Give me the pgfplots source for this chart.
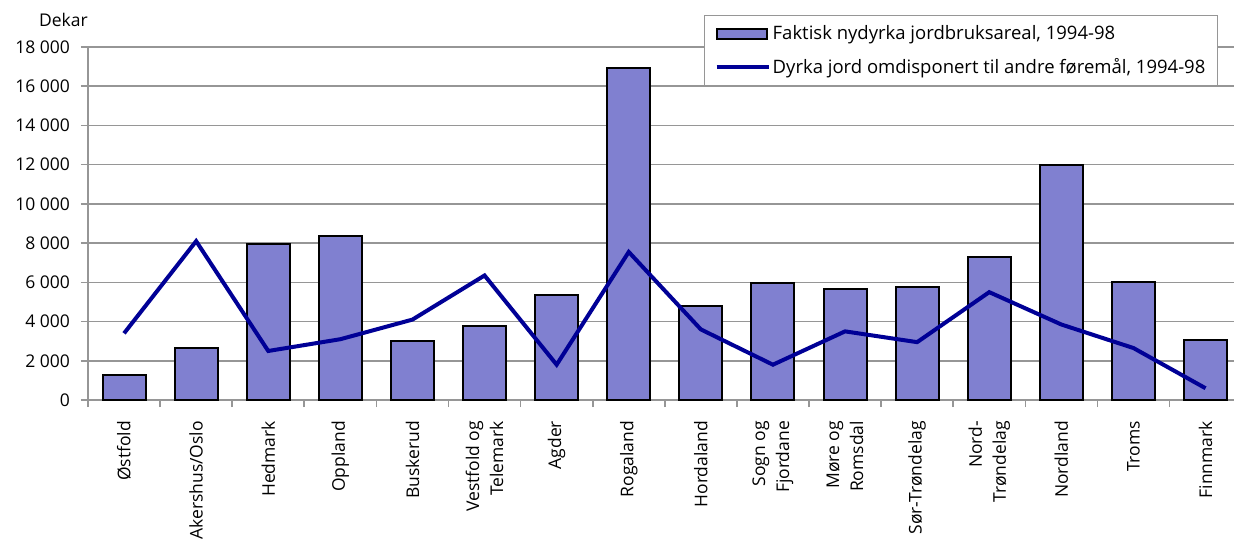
\documentclass[border=0pt]{standalone}
\usepackage{pgfplots}
\pgfplotsset{compat=1.18}
\usepackage{fontspec}
\setmainfont{Open Sans}
\definecolor{barfill}{RGB}{128,128,208}
\definecolor{linenavy}{RGB}{0,0,150}
\definecolor{gridgray}{RGB}{150,150,150}
\pgfplotsset{
  box swatch/.style={legend image code/.code={\draw[##1] (0pt,-5pt) rectangle (50pt,5pt);}},
  stroke swatch/.style={legend image code/.code={\draw[##1] (0pt,0pt) -- (52pt,0pt);}},
}

\begin{document}
\fontsize{17.5}{22}\selectfont
\begin{tikzpicture}[font=\fontsize{17.5}{22}\selectfont]
\begin{axis}[
  scale only axis, width=1146pt, height=353pt,
  xmin=-0.5, xmax=15.395, ymin=0, ymax=18000,
  clip=false,
  axis x line*=bottom, axis y line*=left,
  axis line style={gridgray, line width=1.6pt, -},
  ytick={0,2000,...,18000},
  scaled y ticks=false,
  ymajorgrids, grid style={gridgray, line width=1.6pt},
  tick align=outside, major tick length=7pt,
  tick style={gridgray, line width=1.6pt},
  /pgf/number format/assume math mode=true,
  /pgf/number format/1000 sep={\ },
  yticklabel style={font=\fontsize{17.5}{22}\selectfont, xshift=-5pt},
  xtick={-0.5,0.5,...,15.5}, xticklabels={\empty},
  extra x ticks={0,1,...,15},
  extra x tick labels={{Østfold},{Akershus/Oslo},{Hedmark},{Oppland},{Buskerud},{Vestfold og\\Telemark},{Agder},{Rogaland},{Hordaland},{Sogn og\\Fjordane},{Møre og\\Romsdal},{Sør-Trøndelag},{Nord-\\Trøndelag},{Nordland},{Troms},{Finnmark}},
  extra x tick style={major tick length=0pt,
    xticklabel style={yshift=-15pt, rotate=90, anchor=east, align=right, font=\fontsize{17.5}{24}\selectfont}},
  legend cell align=left,
  legend style={at={(0.986,1.0907)}, anchor=north east, draw=gridgray, line width=1.2pt,
    fill=white, font=\fontsize{18.5}{22}\selectfont, row sep=12pt, inner xsep=10pt, inner ysep=8pt},
]
\addplot[ybar, bar width=43pt, fill=barfill, draw=black, line width=2pt, box swatch]
  coordinates {
  (0,1250) (1,2650) (2,7950) (3,8350) (4,3000) (5,3750) (6,5350) (7,16950)
  (8,4800) (9,5950) (10,5650) (11,5750) (12,7300) (13,12000) (14,6000) (15,3050)
  };
\addlegendentry{Faktisk nydyrka jordbruksareal, 1994-98}
\addplot[linenavy, line width=4pt, mark=none, stroke swatch]
  coordinates {
  (0,3400) (1,8100) (2,2500) (3,3100) (4,4100) (5,6350) (6,1800) (7,7550)
  (8,3600) (9,1800) (10,3500) (11,2950) (12,5500) (13,3850) (14,2650) (15,600)
  };
\addlegendentry{Dyrka jord omdisponert til andre føremål, 1994-98}
\node[anchor=base west, xshift=-55pt, yshift=21pt] at (rel axis cs:0,1) {Dekar};
\end{axis}
\pgfresetboundingbox
\useasboundingbox (-88pt,-139pt) rectangle (1146pt,400pt);
\end{tikzpicture}
\end{document}
